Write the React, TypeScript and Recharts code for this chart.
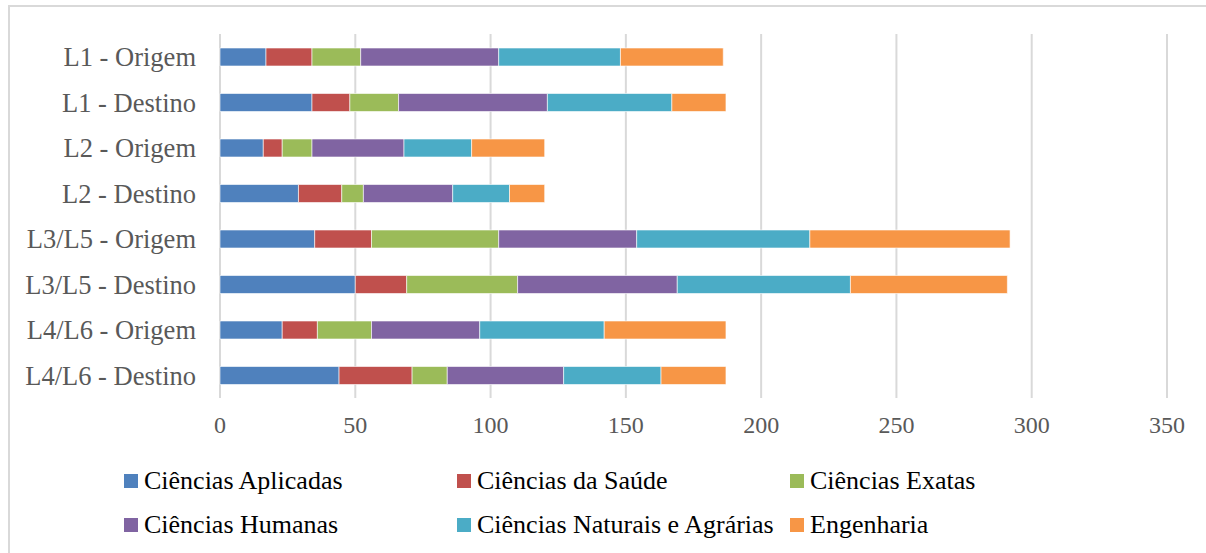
import React from 'react';
import { BarChart, Bar, XAxis, YAxis, CartesianGrid } from 'recharts';

// Linhas de ônibus (origem / destino dos estudantes)
const categorias = [
  'L1 - Origem',
  'L1 - Destino',
  'L2 - Origem',
  'L2 - Destino',
  'L3/L5 - Origem',
  'L3/L5 - Destino',
  'L4/L6 - Origem',
  'L4/L6 - Destino',
];

const aplicadas = [17, 34, 16, 29, 35, 50, 23, 44];
const saude = [17, 14, 7, 16, 21, 19, 13, 27];
const exatas = [18, 18, 11, 8, 47, 41, 20, 13];
const humanas = [51, 55, 34, 33, 51, 59, 40, 43];
const naturais = [45, 46, 25, 21, 64, 64, 46, 36];
const engenharia = [38, 20, 27, 13, 74, 58, 45, 24];

const xTicks = [0, 50, 100, 150, 200, 250, 300, 350];

const series = [
  { key: 'aplicadas', nome: 'Ciências Aplicadas', cor: '#4F81BD', valores: aplicadas },
  { key: 'saude', nome: 'Ciências da Saúde', cor: '#C0504D', valores: saude },
  { key: 'exatas', nome: 'Ciências Exatas', cor: '#9BBB59', valores: exatas },
  { key: 'humanas', nome: 'Ciências Humanas', cor: '#8064A2', valores: humanas },
  { key: 'naturais', nome: 'Ciências Naturais e Agrárias', cor: '#4BACC6', valores: naturais },
  { key: 'engenharia', nome: 'Engenharia', cor: '#F79646', valores: engenharia },
];

const dados = categorias.map((nome, i) => {
  const linha: any = { nome };
  series.forEach(s => {
    linha[s.key] = s.valores[i];
  });
  return linha;
});

const fonte = '"Liberation Serif", "Times New Roman", serif';

const Legenda = () => (
  <div
    style={{
      position: 'absolute',
      left: 114,
      top: 460,
      width: 1000,
      display: 'grid',
      gridTemplateColumns: '333px 333px 333px',
      rowGap: 16,
      fontFamily: fonte,
      fontSize: 26,
      color: '#000',
    }}
  >
    {series.map(s => (
      <div key={s.key} style={{ display: 'flex', alignItems: 'center', height: 28, whiteSpace: 'nowrap' }}>
        <span style={{ width: 14, height: 14, background: s.cor, marginRight: 6, flex: 'none' }} />
        <span>{s.nome}</span>
      </div>
    ))}
  </div>
);

export default function App() {
  return (
    <div style={{ position: 'absolute', left: 0, top: 0, width: 1206, height: 553, background: '#fff', overflow: 'hidden' }}>
      <div
        style={{
          position: 'absolute',
          left: 8,
          top: 5,
          width: 1198,
          height: 548,
          borderLeft: '2px solid #d9d9d9',
          borderTop: '2px solid #d9d9d9',
        }}
      >
        <BarChart
          width={1196}
          height={546}
          data={dados}
          layout="vertical"
          margin={{ top: 27, right: 39, bottom: 115, left: 0 }}
          barSize={18}
        >
          <CartesianGrid horizontal={false} vertical stroke="#d9d9d9" strokeWidth={2} />
          <XAxis
            type="number"
            domain={[0, 350]}
            ticks={xTicks}
            axisLine={false}
            tickLine={false}
            tickMargin={12}
            height={40}
            tick={{ fill: '#595959', fontSize: 24, fontFamily: fonte }}
          />
          <YAxis
            type="category"
            dataKey="nome"
            width={210}
            axisLine={false}
            tickLine={false}
            tickMargin={18}
            tick={{ fill: '#595959', fontSize: 26.5, fontFamily: fonte }}
          />
          {series.map(s => (
            <Bar
              key={s.key}
              dataKey={s.key}
              name={s.nome}
              stackId="total"
              fill={s.cor}
              stroke="#ffffff"
              strokeWidth={0.6}
              isAnimationActive={false}
            />
          ))}
        </BarChart>
        <Legenda />
      </div>
    </div>
  );
}
